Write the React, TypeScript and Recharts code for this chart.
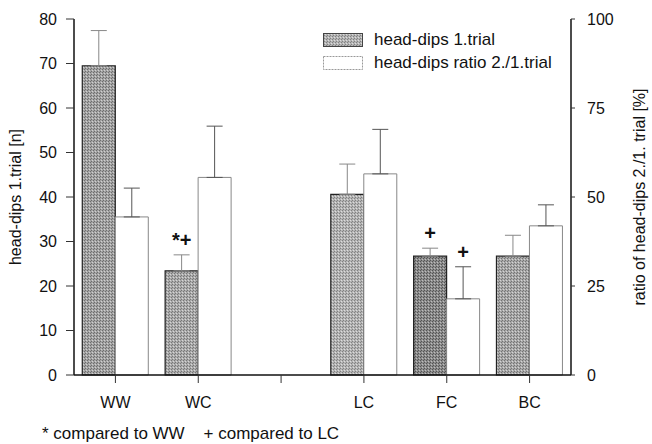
import { ComposedChart, Bar, ErrorBar, Cell, LabelList, XAxis, YAxis } from "recharts"

const groups = ["WW", "WC", "", "LC", "FC", "BC"]
const headDips = [69.5, 23.4, null, 40.6, 26.7, 26.7]
const headDipsErr = [7.9, 3.6, null, 6.8, 1.8, 4.7]
const ratio = [44.4, 55.5, null, 56.5, 21.4, 41.9]
const ratioErr = [8.1, 14.4, null, 12.5, 9.0, 5.9]
const headNotes = ["", "*+", "", "", "+", ""]
const ratioNotes = ["", "", "", "", "+", ""]
const leftTicks = [0, 10, 20, 30, 40, 50, 60, 70, 80]
const rightTicks = [0, 25, 50, 75, 100]

const data = groups.map((g, i) => ({
  group: g,
  head: headDips[i],
  headErr: headDipsErr[i],
  ratio: ratio[i],
  ratioErr: ratioErr[i],
}))

// stipple shades per bar (FC looks darker in the print)
const shades = [
  { base: "#a4a4a4", dark: "#6e6e6e", light: "#d0d0d0" },
  { base: "#ababab", dark: "#777", light: "#d6d6d6" },
  { base: "#aaa", dark: "#777", light: "#d6d6d6" },
  { base: "#b4b4b4", dark: "#828282", light: "#dcdcdc" },
  { base: "#8c8c8c", dark: "#555", light: "#bdbdbd" },
  { base: "#a8a8a8", dark: "#747474", light: "#d4d4d4" },
]

const FONT = "'Liberation Sans', Arial, sans-serif"

// label above the error bar; dataKey of the LabelList is the group name,
// so the note is looked up by group (index skips the empty slot)
function noteLabel(notes: string[], values: (number | null)[], errs: (number | null)[]) {
  return (props: any) => {
    const { x, y, width, height, value } = props
    const i = groups.indexOf(value)
    const note = notes[i]
    const v = values[i]
    if (!note || !v) return null
    const pxPerUnit = height / v
    const top = y - (errs[i] ?? 0) * pxPerUnit
    return (
      <text
        x={x + width / 2}
        y={top - 8}
        textAnchor="middle"
        fontFamily={FONT}
        fontSize={20}
        fontWeight="bold"
        fill="#111"
      >
        {note}
      </text>
    )
  }
}

function LegendBox() {
  return (
    <div style={{ position: "absolute", left: 323, top: 28, fontFamily: FONT, fontSize: 17, color: "#111" }}>
      <div style={{ display: "flex", alignItems: "center", height: 23 }}>
        <svg width={40} height={14} style={{ marginRight: 11 }}>
          <rect x={0.5} y={0.5} width={39} height={13} fill="url(#stip-3)" stroke="#444" />
        </svg>
        head-dips 1.trial
      </div>
      <div style={{ display: "flex", alignItems: "center", height: 23 }}>
        <svg width={40} height={14} style={{ marginRight: 11 }}>
          <rect x={0.5} y={0.5} width={39} height={13} fill="#fff" stroke="#999" strokeDasharray="2 1" />
        </svg>
        head-dips ratio 2./1.trial
      </div>
    </div>
  )
}

export default function App() {
  return (
    <div style={{ position: "absolute", left: 0, top: 0, width: 652, height: 444, background: "#fff" }}>
      <ComposedChart
        width={652}
        height={444}
        data={data}
        margin={{ top: 19, right: 0, left: 0, bottom: 39 }}
        barCategoryGap="10%"
        barGap={0}
      >
        <defs>
          {shades.map((s, i) => (
            <pattern key={i} id={`stip-${i}`} width="3" height="3" patternUnits="userSpaceOnUse">
              <rect width="3" height="3" fill={s.base} />
              <rect x="0" y="0" width="1" height="1" fill={s.dark} />
              <rect x="2" y="1" width="1" height="1" fill={s.light} />
              <rect x="1" y="2" width="1" height="1" fill={s.dark} />
            </pattern>
          ))}
        </defs>
        <XAxis
          dataKey="group"
          tickSize={8}
          tickMargin={14}
          axisLine={{ stroke: "#111", strokeWidth: 1.5 }}
          tickLine={{ stroke: "#333" }}
          tick={{ fill: "#111", fontSize: 16, fontFamily: FONT }}
          height={30}
        />
        <YAxis
          yAxisId="left"
          domain={[0, 80]}
          ticks={leftTicks}
          width={74}
          tickSize={8}
          tickMargin={9}
          axisLine={{ stroke: "#111", strokeWidth: 1.5 }}
          tickLine={{ stroke: "#333" }}
          tick={{ fill: "#111", fontSize: 16, fontFamily: FONT }}
          label={{
            value: "head-dips 1.trial [n]",
            angle: -90,
            position: "insideLeft",
            offset: 15,
            style: { textAnchor: "middle", fill: "#111", fontSize: 16, fontFamily: FONT },
          }}
        />
        <YAxis
          yAxisId="right"
          orientation="right"
          domain={[0, 100]}
          ticks={rightTicks}
          width={81}
          tickSize={4}
          tickMargin={12}
          axisLine={{ stroke: "#111", strokeWidth: 1.5 }}
          tickLine={{ stroke: "#333" }}
          tick={{ fill: "#111", fontSize: 16, fontFamily: FONT }}
          label={{
            value: "ratio of head-dips 2./1. trial [%]",
            angle: -90,
            position: "insideRight",
            offset: 13,
            style: { textAnchor: "middle", fill: "#111", fontSize: 16, fontFamily: FONT },
          }}
        />
        <Bar yAxisId="left" dataKey="head" stroke="#222" strokeWidth={1.2} isAnimationActive={false}>
          {data.map((_, i) => (
            <Cell key={i} fill={`url(#stip-${i})`} />
          ))}
          <ErrorBar dataKey={(d: any) => [0, d.headErr]} direction="y" width={8} stroke="#888" strokeWidth={1} />
          <LabelList dataKey="group" content={noteLabel(headNotes, headDips, headDipsErr)} />
        </Bar>
        <Bar yAxisId="right" dataKey="ratio" fill="#fff" stroke="#888" strokeWidth={1} isAnimationActive={false}>
          <ErrorBar dataKey={(d: any) => [0, d.ratioErr]} direction="y" width={8} stroke="#555" strokeWidth={1} />
          <LabelList dataKey="group" content={noteLabel(ratioNotes, ratio, ratioErr)} />
        </Bar>
      </ComposedChart>
      <LegendBox />
      <div
        style={{
          position: "absolute",
          left: 42,
          top: 425,
          fontFamily: FONT,
          fontSize: 17,
          lineHeight: "18px",
          color: "#111",
          whiteSpace: "pre",
        }}
      >
        {"* compared to WW    + compared to LC"}
      </div>
    </div>
  )
}
